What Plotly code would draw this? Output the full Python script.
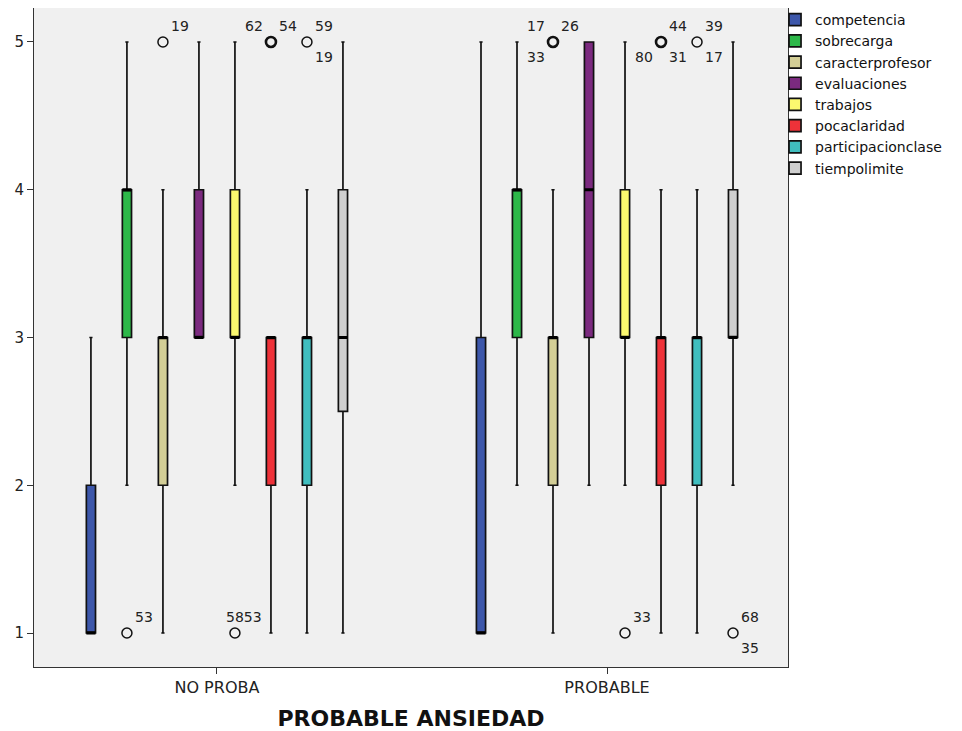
import plotly.graph_objects as go

groups = ["NO PROBA", "PROBABLE"]
variables = ["competencia", "sobrecarga", "caracterprofesor", "evaluaciones",
             "trabajos", "pocaclaridad", "participacionclase", "tiempolimite"]
colors = ["#3D57AA", "#2DB849", "#D3CE96", "#7B2A7F", "#FBF86F", "#EE3239", "#40BEBF", "#CFCFCF"]

# stats per variable: [NO PROBA, PROBABLE]
q1 = {
    "competencia": [1, 1], "sobrecarga": [3, 3], "caracterprofesor": [2, 2], "evaluaciones": [3, 3],
    "trabajos": [3, 3], "pocaclaridad": [2, 2], "participacionclase": [2, 2], "tiempolimite": [2.5, 3]}
median = {
    "competencia": [1, 1], "sobrecarga": [4, 4], "caracterprofesor": [3, 3], "evaluaciones": [3, 4],
    "trabajos": [3, 3], "pocaclaridad": [3, 3], "participacionclase": [3, 3], "tiempolimite": [3, 3]}
q3 = {
    "competencia": [2, 3], "sobrecarga": [4, 4], "caracterprofesor": [3, 3], "evaluaciones": [4, 5],
    "trabajos": [4, 4], "pocaclaridad": [3, 3], "participacionclase": [3, 3], "tiempolimite": [4, 4]}
lower = {
    "competencia": [1, 1], "sobrecarga": [2, 2], "caracterprofesor": [1, 1], "evaluaciones": [3, 2],
    "trabajos": [2, 2], "pocaclaridad": [1, 1], "participacionclase": [1, 1], "tiempolimite": [1, 2]}
upper = {
    "competencia": [3, 5], "sobrecarga": [5, 5], "caracterprofesor": [4, 4], "evaluaciones": [5, 5],
    "trabajos": [5, 5], "pocaclaridad": [3, 4], "participacionclase": [4, 4], "tiempolimite": [5, 5]}

# outliers: (group index, variable, value, [(label, position)], bold)
outliers = [
    (0, "sobrecarga", 1, [("53", "tr")], False),
    (0, "caracterprofesor", 5, [("19", "tr")], False),
    (0, "trabajos", 1, [("5853", "tc")], False),
    (0, "pocaclaridad", 5, [("62", "tl"), ("54", "tr")], True),
    (0, "participacionclase", 5, [("59", "tr"), ("19", "br")], False),
    (1, "caracterprofesor", 5, [("17", "tl"), ("26", "tr"), ("33", "bl")], True),
    (1, "trabajos", 1, [("33", "tr")], False),
    (1, "pocaclaridad", 5, [("44", "tr"), ("80", "bl"), ("31", "br")], True),
    (1, "participacionclase", 5, [("39", "tr"), ("17", "br")], False),
    (1, "tiempolimite", 1, [("68", "tr"), ("35", "br")], False),
]

yticks = [1, 2, 3, 4, 5]

SPACING = 0.0923
BOXW = 0.0235
FONT = "DejaVu Sans"


def pos(g, v):
    return g + (variables.index(v) - 3.5) * SPACING


fig = go.Figure()

for v, c in zip(variables, colors):
    xs = [pos(g, v) for g in range(len(groups))]
    fig.add_trace(go.Box(
        x=xs, q1=q1[v], median=median[v], q3=q3[v],
        lowerfence=lower[v], upperfence=upper[v],
        name=v, fillcolor=c, width=BOXW, whiskerwidth=0.35,
        line=dict(color="#111111", width=1.7), boxpoints=False,
        hoverinfo="skip"))

# thick median lines
mx, my = [], []
for v in variables:
    for g in range(len(groups)):
        p = pos(g, v)
        mx += [p - BOXW / 2, p + BOXW / 2, None]
        my += [median[v][g], median[v][g], None]
fig.add_trace(go.Scatter(x=mx, y=my, mode="lines", line=dict(color="#000000", width=3),
                         showlegend=False, hoverinfo="skip"))

annotations = []
for g, v, val, labels, bold in outliers:
    p = pos(g, v)
    fig.add_trace(go.Scatter(
        x=[p], y=[val], mode="markers", showlegend=False, hoverinfo="skip",
        marker=dict(symbol="circle-open", size=10, color="#111111",
                    line=dict(width=2.6 if bold else 1.5))))
    for lab, where in labels:
        ys = 16 if where[0] == "t" else -15
        if where[1] == "r":
            xa, xs = "left", 6
        elif where[1] == "l":
            xa, xs = "right", -6
        else:
            xa, xs = "center", 9
        annotations.append(dict(x=p, y=val, xref="x", yref="y", text=lab, showarrow=False,
                                xanchor=xa, yanchor="middle", xshift=xs, yshift=ys,
                                font=dict(size=14, color="#222222", family=FONT)))

# page body adds an 8px offset; figure is sized to fit the 962x731 window
fig.update_layout(
    width=954, height=723,
    margin=dict(l=26, r=174, t=0, b=64, autoexpand=False),
    paper_bgcolor="white", plot_bgcolor="#F0F0F0",
    boxmode="overlay",
    font=dict(family=FONT, size=14, color="#222222"),
    annotations=annotations,
    legend=dict(x=0.9828, xanchor="left", y=1.006, yanchor="top",
                font=dict(size=14, family=FONT, color="#111111"),
                bgcolor="rgba(0,0,0,0)", tracegroupgap=0, itemwidth=30),
    showlegend=True,
)
fig.update_xaxes(range=[-0.469, 1.464], tickvals=list(range(len(groups))), ticktext=groups,
                 showgrid=False, zeroline=False, ticks="outside", ticklen=6, tickcolor="#333",
                 showline=True, linecolor="#333", linewidth=1, mirror=True,
                 tickfont=dict(size=16, family=FONT),
                 title=dict(text="<b>PROBABLE ANSIEDAD</b>", font=dict(size=22, family=FONT, color="#111"),
                            standoff=15))
fig.update_yaxes(range=[0.77, 5.23], tickvals=yticks, showgrid=False, zeroline=False,
                 ticks="outside", ticklen=6, tickcolor="#333",
                 showline=True, linecolor="#333", linewidth=1, mirror=True,
                 tickfont=dict(size=15, family=FONT))

fig.write_html("out.html")
